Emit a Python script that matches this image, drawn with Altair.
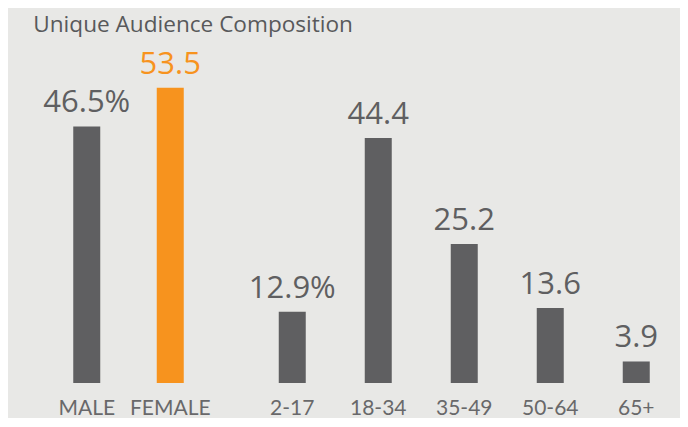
import altair as alt
import pandas as pd

gender_cats = ["MALE", "FEMALE"]
gender_vals = [46.5, 53.5]
age_cats = ["2-17", "18-34", "35-49", "50-64", "65+"]
age_vals = [12.9, 44.4, 25.2, 13.6, 3.9]
highlight = "FEMALE"
title_text = "Unique Audience Composition"

GRAY = "#5f5f61"
ORANGE = "#f7931e"
TEXT = "#58595b"
BG = "#e8e8e6"
YMAX = 60
H = 331


def make_df(cats, vals):
    return pd.DataFrame({
        "cat": cats,
        "val": vals,
        "label": [f"{v}%" if i == 0 else f"{v}" for i, v in enumerate(vals)],
        "hl": ["hl" if c == highlight else "base" for c in cats],
    })


def panel(cats, vals, step):
    df = make_df(cats, vals)
    base = alt.Chart(df).encode(
        x=alt.X("cat:N", sort=cats,
                axis=alt.Axis(title=None, labelAngle=0, domain=False, ticks=False,
                              grid=False, labelFont="Lato",
                              labelFontSize=21, labelColor="#68686a", labelPadding=14)),
        y=alt.Y("val:Q", scale=alt.Scale(domain=[0, YMAX], nice=False), axis=None),
        color=alt.Color("hl:N", scale=alt.Scale(domain=["base", "hl"], range=[GRAY, ORANGE]),
                        legend=None),
    )
    bars = base.mark_bar(size=27)
    text = base.mark_text(dy=-14, baseline="alphabetic", fontSize=31,
                          font="Open Sans").encode(text="label:N")
    return (bars + text).properties(width=alt.Step(step), height=H)


chart = alt.hconcat(
    panel(gender_cats, gender_vals, 83.5),
    panel(age_cats, age_vals, 86),
    spacing=36.25,
).properties(
    title=alt.TitleParams(title_text, anchor="start", dx=-10, fontSize=22.6,
                          font="Open Sans", fontWeight="normal", color=TEXT,
                          baseline="alphabetic", offset=-6),
    background=BG,
    padding={"left": 25, "top": 6, "right": 0, "bottom": 0},
).configure_view(stroke=None)

chart.save("out.html", embed_options={"renderer": "svg", "actions": False})
